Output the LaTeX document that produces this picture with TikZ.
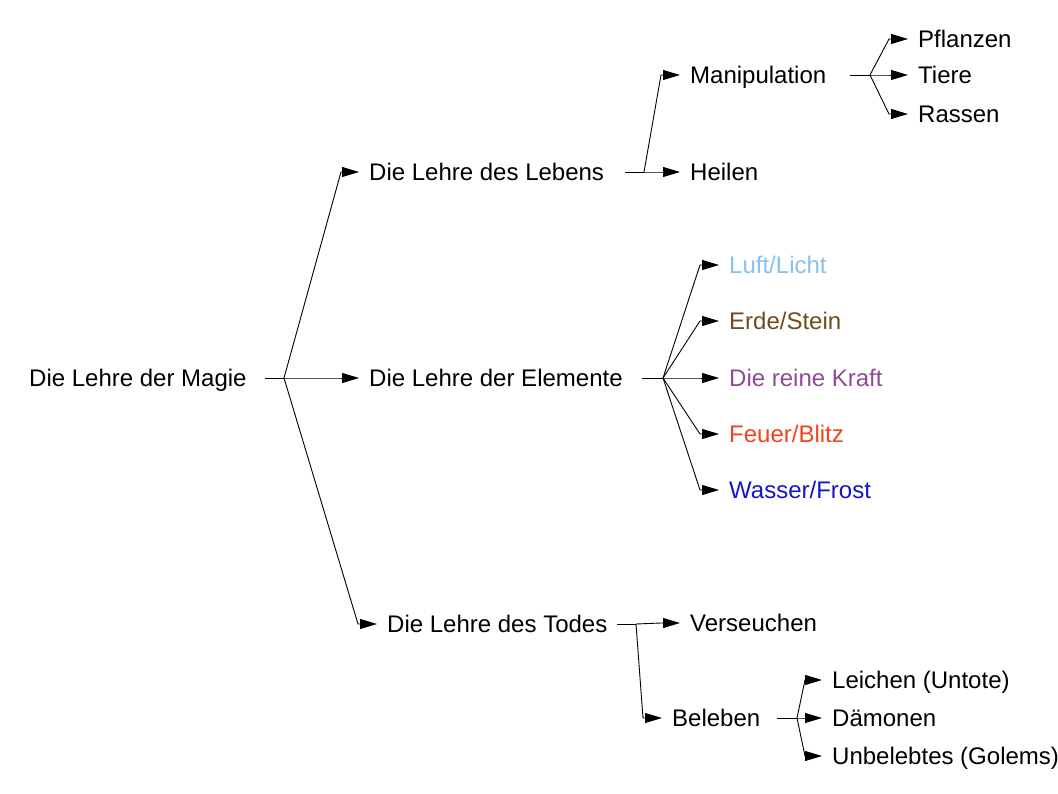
\documentclass[tikz,border=0pt]{standalone}
\usepackage{fontspec}
\setmainfont{Liberation Sans}
\usetikzlibrary{arrows.meta}
\definecolor{luft}{HTML}{86C2EC}
\definecolor{erde}{HTML}{6E4C1E}
\definecolor{kraft}{HTML}{8E4A96}
\definecolor{feuer}{HTML}{EE4420}
\definecolor{wasser}{HTML}{1515C8}
\tikzset{
  lbl/.style={anchor=west, inner xsep=0pt, inner ysep=0pt, text height=17pt, text depth=0pt, font=\fontsize{24}{28}\selectfont},
  conn/.style={line width=0.9pt, -{Triangle[length=17pt,width=10pt]}},
  stem/.style={line width=0.9pt}
}
\begin{document}
\begin{tikzpicture}[x=1pt,y=-1pt]
\useasboundingbox (0,0) rectangle (1058,794);
% nodes
\node[lbl] (root) at (29,378) {Die Lehre der Magie};
\node[lbl] (leb) at (369,172) {Die Lehre des Lebens};
\node[lbl] (ele) at (369,378) {Die Lehre der Elemente};
\node[lbl] (tod) at (387,624) {Die Lehre des Todes};
\node[lbl] (man) at (690,75) {Manipulation};
\node[lbl] (hei) at (690,172) {Heilen};
\node[lbl] (pfl) at (918,39) {Pflanzen};
\node[lbl] (tie) at (918,75) {Tiere};
\node[lbl] (ras) at (918,114) {Rassen};
\node[lbl, text=luft] (luf) at (729,265) {Luft/Licht};
\node[lbl, text=erde] (erd) at (729,321) {Erde/Stein};
\node[lbl, text=kraft] (kra) at (729,378) {Die reine Kraft};
\node[lbl, text=feuer] (feu) at (729,434) {Feuer/Blitz};
\node[lbl, text=wasser] (was) at (729,490) {Wasser/Frost};
\node[lbl] (ver) at (690,623) {Verseuchen};
\node[lbl] (bel) at (672,718) {Beleben};
\node[lbl] (lei) at (832,680) {Leichen (Untote)};
\node[lbl] (dae) at (832,718) {Dämonen};
\node[lbl] (unb) at (832,756) {Unbelebtes (Golems)};
% stems and forks
\coordinate (root-o) at (265,378); \coordinate (root-f) at (284,378);
\coordinate (leb-o) at (625,172);  \coordinate (leb-f) at (644,172);
\coordinate (ele-o) at (642,378);  \coordinate (ele-f) at (663,378);
\coordinate (tod-o) at (617,624);  \coordinate (tod-f) at (636,624);
\coordinate (man-o) at (850,75);   \coordinate (man-f) at (870,75);
\coordinate (bel-o) at (777,718);  \coordinate (bel-f) at (797,718);
\draw[stem] (root-o) -- (root-f);
\draw[stem] (leb-o) -- (leb-f);
\draw[stem] (ele-o) -- (ele-f);
\draw[stem] (tod-o) -- (tod-f);
\draw[stem] (man-o) -- (man-f);
\draw[stem] (bel-o) -- (bel-f);
% bends before arrowheads
\coordinate (leb-i) at (341,172);
\coordinate (ele-i) at (341,378);
\coordinate (tod-i) at (358,624);
\coordinate (man-i) at (661,75);
\coordinate (hei-i) at (661,172);
\coordinate (pfl-i) at (889,39);
\coordinate (tie-i) at (889,75);
\coordinate (ras-i) at (889,114);
\coordinate (luf-i) at (700,265);
\coordinate (erd-i) at (700,321);
\coordinate (kra-i) at (700,378);
\coordinate (feu-i) at (700,434);
\coordinate (was-i) at (700,490);
\coordinate (ver-i) at (661,623);
\coordinate (bel-i) at (643,718);
\coordinate (lei-i) at (805,680);
\coordinate (dae-i) at (805,718);
\coordinate (unb-i) at (805,756);
% connectors
\foreach \f/\c in {root/leb,root/ele,root/tod,leb/man,leb/hei,man/pfl,man/tie,man/ras,ele/luf,ele/erd,ele/kra,ele/feu,ele/was,tod/ver,tod/bel,bel/lei,bel/dae,bel/unb}
  \draw[conn] (\f-f) -- (\c-i) -- ([xshift=-10pt]\c.west);
\end{tikzpicture}
\end{document}
